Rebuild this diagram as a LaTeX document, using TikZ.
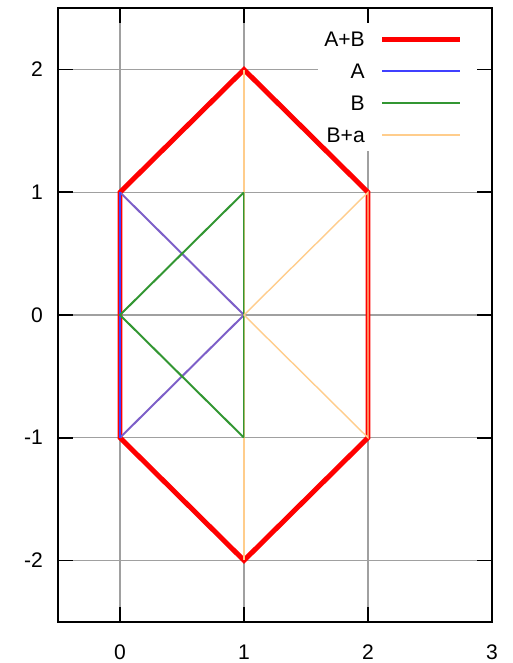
\documentclass[tikz,border=0pt]{standalone}
\usepackage{fontspec}
\setmainfont{Liberation Sans}
\definecolor{gridgray}{RGB}{160,160,160}
\definecolor{sumred}{RGB}{255,0,0}
\definecolor{ablue}{RGB}{64,64,255}
\definecolor{apurple}{RGB}{125,95,200}
\definecolor{bgreen}{RGB}{50,150,50}
\definecolor{borange}{RGB}{255,205,140}
\tikzset{
  gridline/.style={draw=gridgray, line width=1.3pt},
  frame/.style={draw=black, line width=1.7pt},
  tickmark/.style={draw=black, line width=1.5pt},
  ticklabel/.style={font=\fontsize{18}{20}\selectfont, inner sep=0pt},
  legendlabel/.style={font=\fontsize{18}{20}\selectfont, inner sep=0pt, anchor=east},
  sumline/.style={draw=sumred, line width=4.25pt, line join=miter},
  aline/.style={draw=ablue, line width=2pt},
  adiag/.style={draw=apurple, line width=1.7pt},
  bline/.style={draw=bgreen, line width=1.7pt},
  baline/.style={draw=borange, line width=1.2pt},
}
\begin{document}
\begin{tikzpicture}[x=3.72cm, y=3.681cm]
\useasboundingbox (-0.9677,-2.8362) rectangle (3.1694,2.5672);
% grid
\foreach \gx in {0,1,2} \draw[gridline] (\gx,-2.5) -- (\gx,2.5);
\foreach \gy in {-2,-1,0,1,2} \draw[gridline] (-0.5,\gy) -- (3,\gy);
% legend background
\fill[white] (1.597,1.337) rectangle (2.976,2.380);
% ticks
\foreach \gx in {0,1,2} {
  \draw[tickmark] (\gx,-2.5) -- (\gx,-2.378);
  \draw[tickmark] (\gx,2.5) -- (\gx,2.378);
}
\foreach \gy in {-2,-1,0,1,2} {
  \draw[tickmark] (-0.5,\gy) -- (-0.379,\gy);
  \draw[tickmark] (3,\gy) -- (2.879,\gy);
}
% frame
\draw[frame] (-0.5,-2.5) rectangle (3,2.5);
% tick labels
\foreach \gx in {0,1,2,3} \node[ticklabel] (xl\gx) at (\gx,-2.745) {\gx};
\node[ticklabel, anchor=east] (yl2) at (-0.621,2) {2};
\node[ticklabel, anchor=east] (yl1) at (-0.621,1) {1};
\node[ticklabel, anchor=east] (yl0) at (-0.621,0) {0};
\node[ticklabel, anchor=east] (ylm1) at (-0.621,-1) {-1};
\node[ticklabel, anchor=east] (ylm2) at (-0.621,-2) {-2};
% vertices
\coordinate (p1) at (0,1);
\coordinate (p2) at (1,2);
\coordinate (p3) at (2,1);
\coordinate (p4) at (2,-1);
\coordinate (p5) at (1,-2);
\coordinate (p6) at (0,-1);
\coordinate (o) at (0,0);
\coordinate (c) at (1,0);
\coordinate (q1) at (1,1);
\coordinate (q2) at (1,-1);
% A+B
\draw[sumline] (p1) -- (p2) -- (p3) -- (p4) -- (p5) -- (p6) -- cycle;
% A
\draw[adiag] (p1) -- (c) -- (p6);
\draw[aline] (p6) -- (p1);
% B
\draw[bline] (o) -- (q1) -- (q2) -- cycle;
% B+a
\draw[baline] (p2) -- (q1);
\draw[baline] (q2) -- (p5);
\draw[baline, line width=0.8pt, opacity=0.6] (q1) -- (q2);
\draw[baline] (c) -- (p3) -- (p4) -- cycle;
% legend
\node[legendlabel] (lab1) at (1.976,2.249) {A+B};
\node[legendlabel] (lab2) at (1.976,1.989) {A};
\node[legendlabel] (lab3) at (1.976,1.728) {B};
\node[legendlabel] (lab4) at (1.976,1.467) {B+a};
\draw[sumline, line cap=butt] (2.113,2.249) -- (2.742,2.249);
\draw[aline] (2.113,1.989) -- (2.742,1.989);
\draw[bline] (2.113,1.728) -- (2.742,1.728);
\draw[baline, line width=1.6pt] (2.113,1.467) -- (2.742,1.467);
\end{tikzpicture}
\end{document}
